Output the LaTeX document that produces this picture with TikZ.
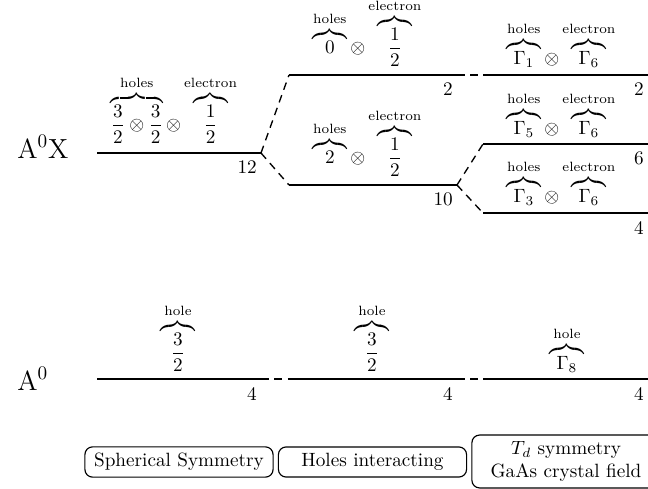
\documentclass[tikz,border=0pt]{standalone}
\usepackage{tikz}
\usepackage{amsmath}
\tikzstyle{lvl}=[line width=0.9pt]
\tikzstyle{con}=[line width=0.7pt,dash pattern=on 4pt off 3pt]
\tikzstyle{num}=[anchor=north east,inner xsep=2pt,inner ysep=4pt]
\tikzstyle{st}=[anchor=south,inner sep=0pt]
\tikzstyle{sym}=[draw=black,rounded corners=4pt,line width=0.6pt,align=center,minimum width=98pt]
\newcommand{\grp}[2]{\overbrace{\makebox[18pt]{$\displaystyle #2$}}^{\text{#1}}}

\begin{document}
\begin{tikzpicture}[x=0.5208pt,y=-0.5208pt]
    \clip (0,0) rectangle (648,489);
    % exciton levels
    \coordinate (0) at (97,153);
    \coordinate (1) at (261,153);
    \coordinate (2) at (289,75);
    \coordinate (3) at (457,75);
    \coordinate (4) at (289,185);
    \coordinate (5) at (457,185);
    \coordinate (6) at (483,75);
    \coordinate (7) at (648,75);
    \coordinate (8) at (483,144);
    \coordinate (9) at (648,144);
    \coordinate (10) at (483,213);
    \coordinate (11) at (648,213);
    % acceptor levels
    \coordinate (12) at (97,379);
    \coordinate (13) at (261,379);
    \coordinate (14) at (288,379);
    \coordinate (15) at (457,379);
    \coordinate (16) at (483,379);
    \coordinate (17) at (648,379);
    \node [anchor=base west,inner sep=0pt] (ax) at (17,158) {\Large A$^0$X};
    \node [anchor=base west,inner sep=0pt] (a) at (17,390) {\Large A$^0$};
    \draw [style=lvl] (0) to (1);
    \draw [style=lvl] (2) to (3);
    \draw [style=lvl] (4) to (5);
    \draw [style=lvl] (6) to (7);
    \draw [style=lvl] (8) to (9);
    \draw [style=lvl] (10) to (11);
    \draw [style=lvl] (12) to (13);
    \draw [style=lvl] (14) to (15);
    \draw [style=lvl] (16) to (17);
    \draw [style=con] (1) to (2);
    \draw [style=con] (1) to (4);
    \draw [style=con] (3) to (6);
    \draw [style=con] (5) to (8);
    \draw [style=con] (5) to (10);
    \draw [style=con] (13) to (14);
    \draw [style=con] (15) to (16);
    % degeneracies
    \node [style=num] (n1) at (1) {12};
    \node [style=num] (n2) at (3) {2};
    \node [style=num] (n3) at (5) {10};
    \node [style=num] (n4) at (7) {2};
    \node [style=num] (n5) at (9) {6};
    \node [style=num] (n6) at (11) {4};
    \node [style=num] (n7) at (13) {4};
    \node [style=num] (n8) at (15) {4};
    \node [style=num] (n9) at (17) {4};
    % states
    \node [style=st] (s1) at (174,144) {$\overbrace{\dfrac32\otimes\dfrac32}^{\text{holes}}\otimes\grp{electron}{\frac12}$};
    \node [style=st] (s2) at (367,67) {$\grp{holes}{0}\otimes\grp{electron}{\frac12}$};
    \node [style=st] (s3) at (367,177) {$\grp{holes}{2}\otimes\grp{electron}{\frac12}$};
    \node [style=st] (s4) at (561,68) {$\grp{holes}{\Gamma_1}\otimes\grp{electron}{\Gamma_6}$};
    \node [style=st] (s5) at (561,138) {$\grp{holes}{\Gamma_5}\otimes\grp{electron}{\Gamma_6}$};
    \node [style=st] (s6) at (561,206) {$\grp{holes}{\Gamma_3}\otimes\grp{electron}{\Gamma_6}$};
    \node [style=st] (s7) at (178,372) {$\grp{hole}{\frac32}$};
    \node [style=st] (s8) at (372,372) {$\grp{hole}{\frac32}$};
    \node [style=st] (s9) at (567,373) {$\grp{hole}{\Gamma_8}$};
    % symmetry boxes
    \node [style=sym] (b1) at (179,462) {Spherical Symmetry};
    \node [style=sym] (b2) at (372.5,462) {Holes interacting};
    \node [style=sym] (b3) at (566,461.5) {$T_d$ symmetry\\GaAs crystal field};
\end{tikzpicture}
\end{document}
